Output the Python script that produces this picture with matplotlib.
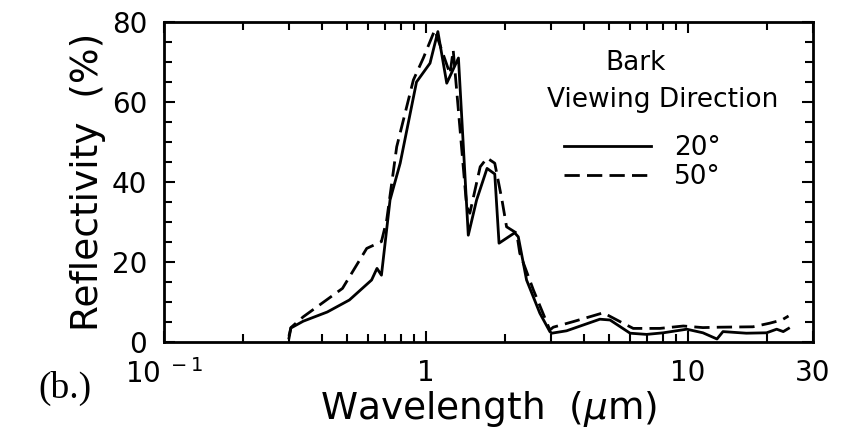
import matplotlib
matplotlib.use("Agg")
import matplotlib.pyplot as plt
from matplotlib.ticker import MultipleLocator, LogLocator, FixedLocator, NullFormatter

# ---- data ----
wl_20 = [0.300, 0.305, 0.34, 0.42, 0.51, 0.62, 0.65, 0.676, 0.729, 0.797, 0.92, 1.036,
         1.11, 1.20, 1.33, 1.45, 1.56, 1.71, 1.83, 1.90, 2.18, 2.25, 2.42, 2.72, 2.97,
         3.02, 3.44, 4.61, 5.04, 6.01, 6.95, 8.05, 9.89, 11.4, 12.9, 13.6, 16.7, 19.95,
         21.8, 23.1, 24.2]
refl_20 = [1.0, 3.5, 5.2, 7.5, 10.5, 15.5, 18.4, 16.7, 35.5, 44.7, 65.0, 69.7,
           77.6, 64.7, 71.0, 26.7, 35.5, 43.4, 42.0, 24.7, 27.3, 26.3, 15.5, 7.2, 2.6,
           2.2, 2.8, 5.7, 5.5, 2.2, 1.9, 2.3, 3.2, 2.3, 0.75, 2.6, 2.2, 2.3,
           3.2, 2.6, 3.4]

wl_50 = [0.300, 0.305, 0.34, 0.48, 0.594, 0.676, 0.708, 0.773, 0.895, 0.977, 1.08,
         1.235, 1.27, 1.43, 1.47, 1.61, 1.71, 1.83, 1.95, 2.03, 2.22, 2.28, 2.57, 2.97,
         3.06, 3.65, 4.75, 5.50, 6.18, 7.81, 9.60, 11.4, 13.2, 17.7, 20.5, 22.8, 24.2]
refl_50 = [1.5, 3.6, 6.3, 13.4, 23.4, 25.1, 30.5, 48.8, 65.5, 71.0, 78.0,
           67.0, 73.0, 33.8, 32.2, 43.8, 46.0, 44.7, 35.5, 28.8, 27.2, 22.2, 13.0, 3.0,
           3.7, 5.1, 7.3, 5.1, 3.4, 3.4, 4.0, 3.6, 3.7, 3.8, 4.7, 5.5, 6.5]

x_ticks = [0.1, 1, 10, 30]
x_ticklabels = [r"$10^{\ -1}$", "1", "10", "30"]
y_ticks = [0, 20, 40, 60, 80]
series_labels = ["20°", "50°"]

plt.rcParams['font.family'] = ['DejaVu Sans']
plt.rcParams['mathtext.fontset'] = 'dejavusans'

fig = plt.figure(figsize=(8.43, 4.28), dpi=100)
ax = fig.add_axes([164/843, 1-342/428, 649/843, 320/428])

ax.plot(wl_20, refl_20, color='black', lw=2.0, label=series_labels[0])
ax.plot(wl_50, refl_50, color='black', lw=2.0, dashes=(5.5, 2.6), label=series_labels[1])

ax.set_xscale('log')
ax.set_xlim(0.1, 30)
ax.set_ylim(0, 80)
ax.xaxis.set_major_locator(FixedLocator(x_ticks))
ax.set_xticklabels(x_ticklabels)
ax.xaxis.set_minor_locator(LogLocator(base=10, subs=range(2, 10)))
ax.xaxis.set_minor_formatter(NullFormatter())
ax.set_yticks(y_ticks)
ax.yaxis.set_minor_locator(MultipleLocator(5))

ax.tick_params(which='both', direction='in', top=True, right=True, width=1.5,
               labelsize=20, colors='black')
ax.tick_params(which='major', length=8)
ax.tick_params(which='minor', length=6)
ax.tick_params(axis='x', which='major', pad=12)
ax.tick_params(axis='y', which='major', pad=12)
for s in ax.spines.values():
    s.set_linewidth(2.0)

ax.set_xlabel("Wavelength  ($\\mu$m)", fontsize=27, labelpad=0)
ax.set_ylabel("Reflectivity  (%)", fontsize=27, labelpad=4)

ax.text(0.726, 0.872, "Bark", transform=ax.transAxes, ha='center', va='center', fontsize=19)
ax.text(0.769, 0.756, "Viewing Direction", transform=ax.transAxes, ha='center', va='center', fontsize=19)
leg = ax.legend(loc='center', bbox_to_anchor=(0.737, 0.56), frameon=False, fontsize=19,
                handlelength=3.3, handletextpad=0.9, labelspacing=0.1, borderpad=0)

fig.text(38/843, 1-398/428, "(b.)", family=['Liberation Serif', 'DejaVu Serif'], fontsize=27,
         ha='left', va='baseline')

fig.savefig("out.png", dpi=100)
